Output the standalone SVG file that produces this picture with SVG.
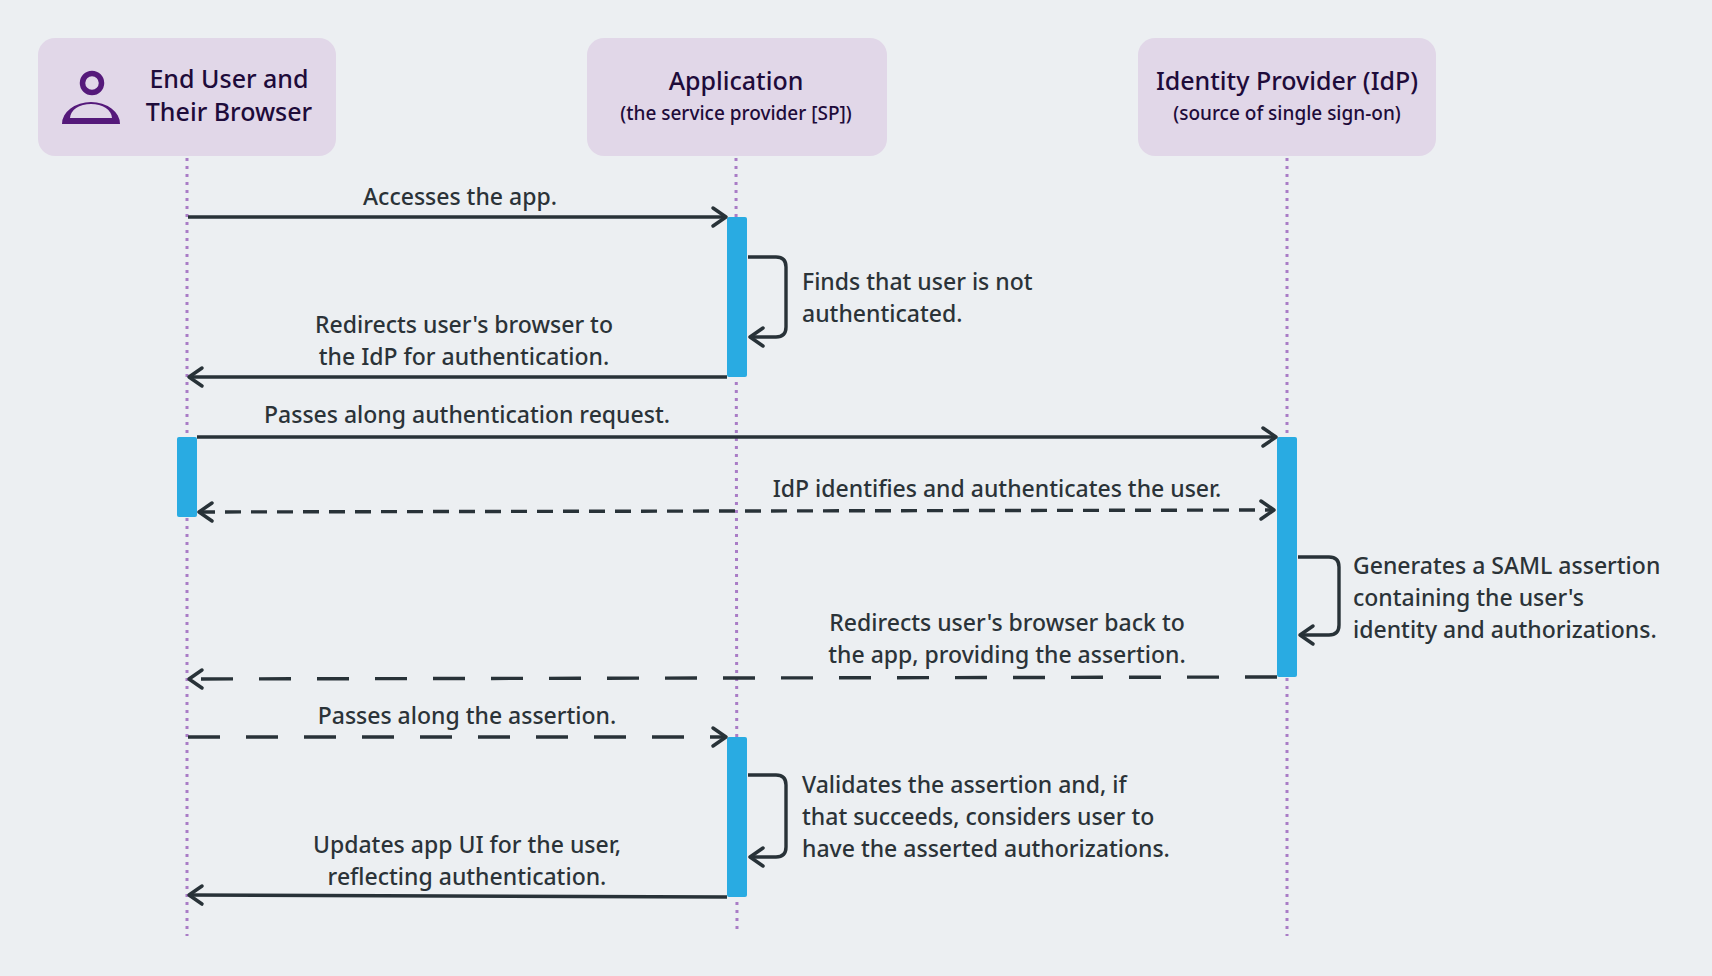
<svg xmlns="http://www.w3.org/2000/svg" width="1712" height="976" viewBox="0 0 1712 976">
<style>
.box{fill:#e1d7e8}
.t{font-family:"Noto Sans","Open Sans",sans-serif;fill:#2b3338;font-size:23px;font-weight:500}
.h{font-family:"Noto Sans","Open Sans",sans-serif;fill:#1e0b3a;font-size:25px;font-weight:500}
.s{font-family:"Noto Sans","Open Sans",sans-serif;fill:#1e0b3a;font-size:19px;font-weight:500}
.life{stroke:#a97cc6;stroke-width:3;stroke-dasharray:3 5;fill:none}
.bar{fill:#29abe2}
.ln{stroke:#283238;stroke-width:3.4;fill:none}
</style>
<defs>
<marker id="ah" markerUnits="userSpaceOnUse" markerWidth="26" markerHeight="26" refX="19" refY="12" orient="auto-start-reverse" viewBox="0 0 26 24">
<path d="M6,3 L19,12 L6,21" fill="none" stroke="#283238" stroke-width="3.5" stroke-linecap="round" stroke-linejoin="round"/>
</marker>
</defs>
<rect width="1712" height="976" fill="#eceff2"/>
<g id="lifelines">
<line class="life" x1="187" y1="158" x2="187" y2="936"/>
<line class="life" x1="736" y1="158" x2="737" y2="934"/>
<line class="life" x1="1287" y1="158" x2="1287" y2="936"/>
</g>
<g id="user">
<rect class="box" x="38" y="38" width="298" height="118" rx="17"/>
<circle cx="92" cy="83" r="9.5" fill="none" stroke="#55197a" stroke-width="5.5"/>
<path d="M62,124 A29,22 0 0 1 120,124 Z M70,118 A21,14 0 0 1 112,118 Z" fill="#55197a" fill-rule="evenodd"/>
<text class="h" x="229" y="88" text-anchor="middle">End User and</text>
<text class="h" x="229" y="121" text-anchor="middle">Their Browser</text>
</g>
<g id="app">
<rect class="box" x="587" y="38" width="300" height="118" rx="17"/>
<text class="h" x="736" y="90" text-anchor="middle">Application</text>
<text class="s" x="736" y="120" text-anchor="middle">(the service provider [SP])</text>
</g>
<g id="idp">
<rect class="box" x="1138" y="38" width="298" height="118" rx="17"/>
<text class="h" x="1287" y="90" text-anchor="middle">Identity Provider (IdP)</text>
<text class="s" x="1287" y="120" text-anchor="middle">(source of single sign-on)</text>
</g>
<g id="activations">
<rect class="bar" x="727" y="217" width="20" height="160" rx="2"/>
<rect class="bar" x="177" y="437" width="20" height="80" rx="2"/>
<rect class="bar" x="1277" y="437" width="20" height="240" rx="2"/>
<rect class="bar" x="727" y="737" width="20" height="160" rx="2"/>
</g>
<g id="connectors">
<line class="ln" x1="188" y1="217" x2="726" y2="217" marker-end="url(#ah)"/>
<path class="ln" d="M748,257 H776 Q786,257 786,267 V327 Q786,337 776,337 H750" marker-end="url(#ah)"/>
<line class="ln" x1="727" y1="377" x2="189" y2="377" marker-end="url(#ah)"/>
<line class="ln" x1="197" y1="437" x2="1276" y2="437" marker-end="url(#ah)"/>
<line class="ln" x1="199" y1="512" x2="1274" y2="510" stroke-width="5" stroke-dasharray="16 10" marker-start="url(#ah)" marker-end="url(#ah)"/>
<path class="ln" d="M1298,557 H1329 Q1339,557 1339,567 V625 Q1339,635 1329,635 H1300" marker-end="url(#ah)"/>
<line class="ln" x1="1277" y1="677" x2="189" y2="679" stroke-dasharray="32 26" marker-end="url(#ah)"/>
<line class="ln" x1="188" y1="737" x2="726" y2="737" stroke-dasharray="32 26" marker-end="url(#ah)"/>
<path class="ln" d="M748,775 H776 Q786,775 786,785 V847 Q786,857 776,857 H750" marker-end="url(#ah)"/>
<line class="ln" x1="727" y1="897" x2="189" y2="895" marker-end="url(#ah)"/>
</g>
<g id="labels">
<text class="t" x="460" y="205" text-anchor="middle">Accesses the app.</text>
<text class="t" x="802" y="290">Finds that user is not</text>
<text class="t" x="802" y="322">authenticated.</text>
<text class="t" x="464" y="333" text-anchor="middle">Redirects user's browser to</text>
<text class="t" x="464" y="365" text-anchor="middle">the IdP for authentication.</text>
<text class="t" x="467" y="423" text-anchor="middle">Passes along authentication request.</text>
<text class="t" x="997" y="497" text-anchor="middle">IdP identifies and authenticates the user.</text>
<text class="t" x="1353" y="574">Generates a SAML assertion</text>
<text class="t" x="1353" y="606">containing the user's</text>
<text class="t" x="1353" y="638">identity and authorizations.</text>
<text class="t" x="1007" y="631" text-anchor="middle">Redirects user's browser back to</text>
<text class="t" x="1007" y="663" text-anchor="middle">the app, providing the assertion.</text>
<text class="t" x="467" y="724" text-anchor="middle">Passes along the assertion.</text>
<text class="t" x="802" y="793">Validates the assertion and, if</text>
<text class="t" x="802" y="825">that succeeds, considers user to</text>
<text class="t" x="802" y="857">have the asserted authorizations.</text>
<text class="t" x="467" y="853" text-anchor="middle">Updates app UI for the user,</text>
<text class="t" x="467" y="885" text-anchor="middle">reflecting authentication.</text>
</g>
</svg>
